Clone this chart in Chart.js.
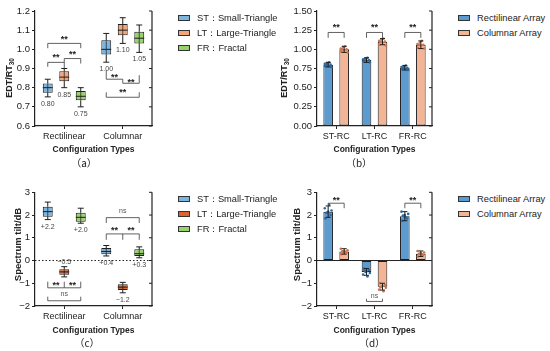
<!DOCTYPE html>
<html>
<head>
<meta charset="utf-8">
<script src="https://cdn.jsdelivr.net/npm/chart.js@4.4.1/dist/chart.umd.min.js"></script>
<style>
body { margin: 0; background: #fff; width: 550px; height: 351px; position: relative; overflow: hidden; font-family: "Liberation Sans", Arial, sans-serif; }
canvas { position: absolute; }
.leg { position: absolute; font-size: 9.3px; line-height: 12px; color: #222; white-space: nowrap; }
.leg i { display: inline-block; box-sizing: border-box; width: 12px; height: 6px; border: 1px solid #333; vertical-align: middle; margin: -1px 7px 0 0; }
.tag { position: absolute; width: 40px; text-align: center; font-family: "Noto Sans CJK SC", sans-serif; font-size: 10px; line-height: 12px; color: #222; }
</style>
</head>
<body>
<canvas id="ca" width="160" height="175" style="left:0;top:0"></canvas>
<canvas id="cb" width="165" height="175" style="left:275px;top:0"></canvas>
<canvas id="cc" width="160" height="176" style="left:0;top:175px"></canvas>
<canvas id="cd" width="165" height="176" style="left:275px;top:175px"></canvas>
<div class="tag" style="left:64px;top:157px">（a）</div>
<div class="tag" style="left:339px;top:157px">（b）</div>
<div class="tag" style="left:67px;top:337px">（c）</div>
<div class="tag" style="left:352px;top:337px">（d）</div>
<script>
const FONT = '"Liberation Sans", Arial, sans-serif';
Chart.defaults.font.family = FONT;

// categories and series
const boxCats = ['Rectilinear', 'Columnar'];
const barCats = ['ST-RC', 'LT-RC', 'FR-RC'];
const boxSeries = ['ST：Small-Triangle', 'LT：Large-Triangle', 'FR：Fractal'];
const barSeries = ['Rectilinear Array', 'Columnar Array'];

// EDT/RT30 box stats, [min, q1, median, q3, max] for Rectilinear, Columnar
const edtST = [[0.752, 0.773, 0.80, 0.822, 0.844], [0.933, 0.973, 1.00, 1.048, 1.083]];
const edtLT = [[0.80, 0.834, 0.855, 0.886, 0.90], [1.031, 1.074, 1.10, 1.132, 1.165]];
const edtFR = [[0.70, 0.734, 0.755, 0.783, 0.80], [0.984, 1.031, 1.058, 1.092, 1.127]];
const edtLabels = [['0.80', '1.00'], ['0.85', '1.10'], ['0.75', '1.05']];
const edtTicks = [0.6, 0.7, 0.8, 0.9, 1.0, 1.1, 1.2];

// Spectrum tilt box stats
const tiltST = [[1.80, 1.93, 2.15, 2.37, 2.57], [0.20, 0.28, 0.40, 0.55, 0.66]];
const tiltLT = [[-0.72, -0.63, -0.50, -0.38, -0.27], [-1.42, -1.30, -1.17, -1.04, -0.96]];
const tiltFR = [[1.64, 1.71, 1.90, 2.10, 2.30], [0.12, 0.20, 0.30, 0.50, 0.60]];
const tiltLabels = [['+2.2', '+0.4'], ['−0.5', '−1.2'], ['+2.0', '+0.3']];
const tiltTicks = [-2, -1, 0, 1, 2, 3];

// EDT/RT30 bars
const edtRect = [0.80, 0.86, 0.76];
const edtCol = [1.00, 1.10, 1.06];
const edtRectErr = [0.03, 0.03, 0.03];
const edtColErr = [0.04, 0.04, 0.05];
const edtRectPts = [[0.78, 0.80, 0.82, 0.77, 0.81, 0.83, 0.79, 0.80], [0.84, 0.86, 0.88, 0.83, 0.87, 0.89, 0.85, 0.86], [0.74, 0.76, 0.78, 0.73, 0.77, 0.79, 0.75, 0.76]];
const edtColPts = [[0.97, 1.00, 1.03, 0.96, 1.01, 1.04, 0.99, 1.00], [1.06, 1.10, 1.13, 1.05, 1.11, 1.14, 1.09, 1.10], [1.02, 1.06, 1.09, 1.01, 1.07, 1.11, 1.05, 1.06]];
const edtBarTicks = [0, 0.25, 0.5, 0.75, 1.0, 1.25, 1.5];

// Spectrum tilt bars
const tiltRect = [2.15, -0.50, 1.95];
const tiltCol = [0.40, -1.15, 0.30];
const tiltRectErr = [0.25, 0.15, 0.20];
const tiltColErr = [0.12, 0.15, 0.12];
const tiltRectPts = [[1.85, 2.00, 2.10, 2.20, 2.30, 2.45, 2.15, 2.10], [-0.35, -0.42, -0.50, -0.55, -0.62, -0.70, -0.48, -0.45], [1.75, 1.85, 1.95, 2.05, 2.15, 1.90, 2.00, 1.98]];
const tiltColPts = [[0.28, 0.35, 0.40, 0.45, 0.52, 0.38, 0.42, 0.40], [-1.00, -1.08, -1.15, -1.20, -1.28, -1.35, -1.12, -1.18], [0.18, 0.25, 0.30, 0.35, 0.42, 0.28, 0.32, 0.30]];

const boxColors = ['#7cb5e0', '#f3a67c', '#9ad26f'];
const boxColorsC = ['#7cb5e0', '#dc642e', '#9ad26f'];
const barColors = ['#5b9bd0', '#f4b597'];
const dotColors = ['#2c6aa3', '#cf744c'];
const jitter = [-0.3, 0.25, -0.1, 0.35, -0.35, 0.1, 0.0, -0.2];

const fmt1 = v => v.toFixed(1);
const fmt2 = v => v.toFixed(2);
const fmtInt = v => (v < 0 ? '−' + Math.abs(v) : String(v));

function line(ctx, x1, y1, x2, y2) {
    ctx.beginPath(); ctx.moveTo(x1, y1); ctx.lineTo(x2, y2); ctx.stroke();
}

// right frame line with inward ticks + zero line
const framePlugin = {
    id: 'frame',
    beforeDatasetsDraw(chart, args, o) {
        if (!o.zero) return;
        const {ctx, chartArea: a, scales: {y}} = chart;
        const py = y.getPixelForValue(0);
        ctx.save();
        ctx.strokeStyle = '#222';
        ctx.lineWidth = 1;
        if (o.zero === 'dot') ctx.setLineDash([1.5, 2]);
        line(ctx, a.left, py, a.right, py);
        ctx.restore();
    },
    afterDraw(chart) {
        const {ctx, chartArea: a, scales: {y}} = chart;
        ctx.save();
        ctx.strokeStyle = '#222';
        ctx.lineWidth = 1.2;
        line(ctx, a.right, a.top, a.right, a.bottom);
        ctx.lineWidth = 1;
        y.ticks.forEach(t => {
            const py = y.getPixelForValue(t.value);
            line(ctx, a.right, py, a.right - 3, py);
        });
        ctx.restore();
    }
};

// rotated y title with subscript
const ytitlePlugin = {
    id: 'ytitle',
    afterDraw(chart, args, o) {
        const ctx = chart.ctx;
        ctx.save();
        ctx.translate(o.x, o.y);
        ctx.rotate(-Math.PI / 2);
        ctx.fillStyle = '#222';
        ctx.textBaseline = 'middle';
        ctx.textAlign = 'left';
        ctx.font = 'bold ' + o.size + 'px ' + FONT;
        const w1 = ctx.measureText(o.text).width;
        const subSize = o.size * 0.72;
        let w2 = 0;
        if (o.sub) {
            ctx.font = 'bold ' + subSize + 'px ' + FONT;
            w2 = ctx.measureText(o.sub).width;
        }
        const x0 = -(w1 + w2) / 2;
        ctx.font = 'bold ' + o.size + 'px ' + FONT;
        ctx.fillText(o.text, x0, 0);
        if (o.sub) {
            ctx.font = 'bold ' + subSize + 'px ' + FONT;
            ctx.fillText(o.sub, x0 + w1, o.size * 0.3);
        }
        ctx.restore();
    }
};

// whiskers, medians and value labels on the floating bars
const boxPlugin = {
    id: 'boxes',
    afterDatasetsDraw(chart, args, o) {
        if (!o.stats) return;
        const {ctx, scales: {y}} = chart;
        ctx.save();
        o.stats.forEach((series, di) => {
            const meta = chart.getDatasetMeta(di);
            series.forEach((s, ci) => {
                const el = meta.data[ci];
                const x = el.x, hw = el.width / 2, cap = 3;
                const [mn, q1, md, q3, mx] = s.map(v => y.getPixelForValue(v));
                ctx.strokeStyle = '#1e1e1e';
                ctx.lineWidth = 1;
                line(ctx, x, q3, x, mx);
                line(ctx, x - cap, mx, x + cap, mx);
                line(ctx, x, q1, x, mn);
                line(ctx, x - cap, mn, x + cap, mn);
                line(ctx, x - hw, md, x + hw, md);
                ctx.lineWidth = 0.7;
                line(ctx, x, q3, x, q1);
                const above = o.above && o.above[di][ci];
                ctx.fillStyle = '#444';
                ctx.font = '7px ' + FONT;
                ctx.textAlign = 'center';
                ctx.textBaseline = 'alphabetic';
                ctx.fillText(o.labels[di][ci], x, (above ? mx - 5 : mn + 6.5) + 2.5);
            });
        });
        ctx.restore();
    }
};

// significance brackets
const bracketPlugin = {
    id: 'brackets',
    afterDatasetsDraw(chart, args, o) {
        if (!o.items) return;
        const {ctx, scales: {y}} = chart;
        const px = (d, c) => chart.getDatasetMeta(d).data[c].x;
        ctx.save();
        ctx.strokeStyle = '#3a3a3a';
        ctx.lineWidth = 0.8;
        ctx.textAlign = 'center';
        ctx.textBaseline = 'alphabetic';
        o.items.forEach(b => {
            const x1 = px(b.a[0], b.a[1]), x2 = px(b.b[0], b.b[1]);
            const py = y.getPixelForValue(b.y);
            ctx.beginPath();
            ctx.moveTo(x1, py); ctx.lineTo(x2, py);
            b.legs.forEach(([d, c, v]) => {
                const lx = px(d, c);
                ctx.moveTo(lx, py); ctx.lineTo(lx, y.getPixelForValue(v));
            });
            ctx.stroke();
            const ty = y.getPixelForValue(b.ty);
            if (b.text === '**') {
                ctx.font = 'bold 9px ' + FONT;
                ctx.fillStyle = '#222';
                ctx.fillText('**', (x1 + x2) / 2, ty + 5);
            } else {
                ctx.font = '7px ' + FONT;
                ctx.fillStyle = '#555';
                ctx.fillText(b.text, (x1 + x2) / 2, ty + 2);
            }
        });
        ctx.restore();
    }
};

// error bars and individual points on bars
const errPlugin = {
    id: 'errs',
    afterDatasetsDraw(chart, args, o) {
        if (!o.pts) return;
        const {ctx, scales: {y}} = chart;
        ctx.save();
        o.pts.forEach((series, di) => {
            const meta = chart.getDatasetMeta(di);
            series.forEach((vals, ci) => {
                const el = meta.data[ci];
                const x = el.x, w = el.width;
                ctx.fillStyle = dotColors[di];
                vals.forEach((v, k) => {
                    ctx.beginPath();
                    ctx.arc(x + jitter[k] * w, y.getPixelForValue(v), 1.3, 0, Math.PI * 2);
                    ctx.fill();
                });
                const m = chart.data.datasets[di].data[ci], e = o.err[di][ci];
                const t = y.getPixelForValue(m + e), b = y.getPixelForValue(m - e);
                ctx.strokeStyle = '#1e1e1e';
                ctx.lineWidth = 1;
                line(ctx, x, t, x, b);
                line(ctx, x - 2.5, t, x + 2.5, t);
                line(ctx, x - 2.5, b, x + 2.5, b);
            });
        });
        ctx.restore();
    }
};

function scales(ticks, fmt, yWidth, xHeight) {
    return {
        x: {
            afterFit: s => { s.height = xHeight; },
            grid: {offset: false, drawOnChartArea: false, tickLength: 3, color: '#222'},
            border: {color: '#222', width: 1.2},
            ticks: {color: '#222', font: {size: 9}, padding: 2, maxRotation: 0},
            title: {display: true, text: 'Configuration Types', color: '#222',
                    font: {size: 8.5, weight: 'bold'}, padding: {top: 0, bottom: 1}}
        },
        y: {
            min: ticks[0],
            max: ticks[ticks.length - 1],
            afterFit: s => { s.width = yWidth; },
            afterBuildTicks: s => { s.ticks = ticks.map(v => ({value: v})); },
            grid: {drawOnChartArea: false, tickLength: 3, color: '#222'},
            border: {color: '#222', width: 1.2},
            ticks: {color: '#222', font: {size: 9.5}, padding: 2, callback: v => fmt(v)}
        }
    };
}

function boxChart(id, stats, colors, ticks, fmt, pad, xHeight, extra) {
    return new Chart(document.getElementById(id), {
        type: 'bar',
        data: {
            labels: boxCats,
            datasets: stats.map((s, i) => ({
                label: boxSeries[i],
                data: s.map(v => [v[1], v[3]]),
                backgroundColor: colors[i],
                borderColor: '#1e1e1e',
                borderWidth: 1,
                borderSkipped: false,
                categoryPercentage: 0.846,
                barPercentage: 0.6
            }))
        },
        options: {
            responsive: false,
            animation: false,
            layout: {padding: pad},
            scales: scales(ticks, fmt, 35, xHeight),
            plugins: Object.assign({legend: {display: false}, tooltip: {enabled: false}}, extra)
        },
        plugins: [framePlugin, ytitlePlugin, boxPlugin, bracketPlugin]
    });
}

function barChart(id, series, ticks, fmt, pad, xHeight, extra) {
    return new Chart(document.getElementById(id), {
        type: 'bar',
        data: {
            labels: barCats,
            datasets: series.map((s, i) => ({
                label: barSeries[i],
                data: s,
                backgroundColor: barColors[i],
                borderColor: '#1e1e1e',
                borderWidth: 1,
                borderSkipped: false,
                categoryPercentage: 0.835,
                barPercentage: 0.6
            }))
        },
        options: {
            responsive: false,
            animation: false,
            layout: {padding: pad},
            scales: scales(ticks, fmt, 42, xHeight),
            plugins: Object.assign({legend: {display: false}, tooltip: {enabled: false}}, extra)
        },
        plugins: [framePlugin, ytitlePlugin, errPlugin, bracketPlugin]
    });
}

// (a)
boxChart('ca', [edtST, edtLT, edtFR], boxColors, edtTicks, fmt1,
    {left: 0, top: 11, right: 8, bottom: 19}, 30, {
    ytitle: {text: 'EDT/RT', sub: '30', x: 10, y: 78, size: 9},
    boxes: {stats: [edtST, edtLT, edtFR], labels: edtLabels},
    brackets: {items: [
        {a: [0, 0], b: [2, 0], y: 1.031, legs: [[0, 0, 1.006], [2, 0, 1.006]], text: '**', ty: 1.064},
        {a: [0, 0], b: [1, 0], y: 0.932, legs: [[0, 0, 0.909]], text: '**', ty: 0.97},
        {a: [1, 0], b: [2, 0], y: 0.952, legs: [[1, 0, 0.90], [2, 0, 0.926]], text: '**', ty: 0.985},
        {a: [0, 1], b: [1, 1], y: 0.844, legs: [[0, 1, 0.891], [1, 1, 0.823]], text: '**', ty: 0.865},
        {a: [1, 1], b: [2, 1], y: 0.823, legs: [[2, 1, 0.865]], text: '**', ty: 0.839},
        {a: [0, 1], b: [2, 1], y: 0.75, legs: [[0, 1, 0.776], [2, 1, 0.776]], text: '**', ty: 0.787}
    ]}
});

// (b)
barChart('cb', [edtRect, edtCol], edtBarTicks, fmt2,
    {left: 0, top: 11, right: 8, bottom: 19}, 30, {
    ytitle: {text: 'EDT/RT', sub: '30', x: 10, y: 78, size: 9},
    errs: {err: [edtRectErr, edtColErr], pts: [edtRectPts, edtColPts]},
    brackets: {items: [0, 1, 2].map(c => (
        {a: [0, c], b: [1, c], y: 1.22, legs: [[0, c, 1.15], [1, c, 1.15]], text: '**', ty: 1.317}
    ))}
});

// (c)
boxChart('cc', [tiltST, tiltLT, tiltFR], boxColorsC, tiltTicks, fmtInt,
    {left: 0, top: 17.3, right: 8, bottom: 14}, 31, {
    frame: {zero: 'dot'},
    ytitle: {text: 'Spectrum tilt/dB', x: 18, y: 69.5, size: 9.5},
    boxes: {stats: [tiltST, tiltLT, tiltFR], labels: tiltLabels,
            above: [[false, false], [true, false], [false, false]]},
    brackets: {items: [
        {a: [0, 0], b: [1, 0], y: -1.2, legs: [[0, 0, -0.93], [1, 0, -0.93]], text: '**', ty: -0.98},
        {a: [1, 0], b: [2, 0], y: -1.2, legs: [[2, 0, -0.93]], text: '**', ty: -0.98},
        {a: [0, 0], b: [2, 0], y: -1.77, legs: [[0, 0, -1.59], [2, 0, -1.59]], text: 'ns', ty: -1.46},
        {a: [0, 1], b: [2, 1], y: 1.886, legs: [[0, 1, 1.65], [2, 1, 1.65]], text: 'ns', ty: 2.18},
        {a: [0, 1], b: [1, 1], y: 1.17, legs: [[0, 1, 0.91], [1, 1, 0.91]], text: '**', ty: 1.43},
        {a: [1, 1], b: [2, 1], y: 1.17, legs: [[2, 1, 0.91]], text: '**', ty: 1.43}
    ]}
});

// (d)
barChart('cd', [tiltRect, tiltCol], tiltTicks, fmtInt,
    {left: 0, top: 17.3, right: 8, bottom: 14}, 31, {
    frame: {zero: 'solid'},
    ytitle: {text: 'Spectrum tilt/dB', x: 22, y: 69.5, size: 9.5},
    errs: {err: [tiltRectErr, tiltColErr], pts: [tiltRectPts, tiltColPts]},
    brackets: {items: [
        {a: [0, 0], b: [1, 0], y: 2.52, legs: [[0, 0, 2.45], [1, 0, 2.3]], text: '**', ty: 2.76},
        {a: [0, 2], b: [1, 2], y: 2.52, legs: [[0, 2, 2.3], [1, 2, 2.3]], text: '**', ty: 2.76},
        {a: [0, 1], b: [1, 1], y: -1.8, legs: [[0, 1, -1.68], [1, 1, -1.68]], text: 'ns', ty: -1.54}
    ]}
});

// legends
function legend(x, cy, labels, colors) {
    labels.forEach((t, i) => {
        const d = document.createElement('div');
        d.className = 'leg';
        d.style.left = x + 'px';
        d.style.top = (cy + i * 15 - 6) + 'px';
        d.innerHTML = '<i style="background:' + colors[i] + '"></i>' + t;
        document.body.appendChild(d);
    });
}
legend(178, 18, boxSeries, boxColors);
legend(458, 18, barSeries, barColors);
legend(178, 199, boxSeries, boxColorsC);
legend(458, 199, barSeries, barColors);
</script>
</body>
</html>
